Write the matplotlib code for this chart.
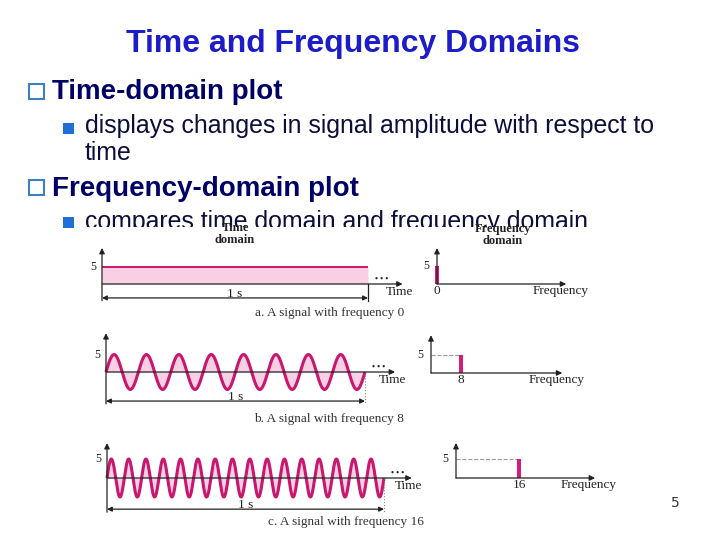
import numpy as np
import matplotlib.pyplot as plt
from matplotlib.patches import Rectangle

# slide text
title = "Time and Frequency Domains"
heads = ["Time-domain plot", "Frequency-domain plot"]
body1 = ["displays changes in signal amplitude with respect to", "time"]
body2 = "compares time domain and frequency domain"
page_no = "5"

# signals: frequency (Hz), peak amplitude, duration (s)
freqs = [0, 8, 16]
amps = [5, 5, 5]
duration = 1.0
captions = ["a. A signal with frequency 0",
            "b. A signal with frequency 8",
            "c. A signal with frequency 16"]

# layout in pixels: origin x, baseline y, px per unit x, px per unit y
time_geo = [(102, 284, 266, 3.4), (106, 372, 259, 3.5), (107, 478, 277, 3.8)]
time_top = [10.6, 11.1, 9.2]
time_meas = [-4.1, -8.3, -8.2]
time_xend = [1.13, 1.116, 1.10]
freq_geo = [(437, 284, 3.8, 3.6), (431, 373, 3.75, 3.6), (456, 478, 3.94, 3.8)]
freq_top = [10.0, 10.5, 9.2]
freq_xend = [34, 35, 35.3]
cap_pos = [(330, 313), (329, 419), (346, 522)]

W, H = 720, 540
fig = plt.figure(figsize=(7.2, 5.4), dpi=100)
sans = "Liberation Sans"
serif = "Liberation Serif"
ink = "#222222"
wave_c = "#c8176e"
fill_c = "#f9d0e3"
bar_c = "#d81b7a"


def fx(x):
    return x / W


def fy(y):
    return 1 - y / H


def panel(ox, oy, sx, sy, xlim, ylim):
    left = ox + xlim[0] * sx
    right = ox + xlim[1] * sx
    top = oy - ylim[1] * sy
    bottom = oy - ylim[0] * sy
    ax = fig.add_axes([fx(left), fy(bottom), (right - left) / W, (bottom - top) / H])
    ax.set_xlim(xlim)
    ax.set_ylim(ylim)
    ax.axis("off")
    ax.set_zorder(5)
    return ax


def arrow(ax, p0, p1, style="-|>", ms=8):
    ax.annotate("", xy=p1, xytext=p0,
                arrowprops=dict(arrowstyle=style, color=ink, lw=0.9,
                                mutation_scale=ms, shrinkA=0, shrinkB=0))


def label(ax, s, xy, dx, dy, size=9.5, **kw):
    ax.annotate(s, xy=xy, xytext=(dx * 0.72, dy * 0.72), textcoords="offset points",
                ha="center", va="center", fontsize=size, family=serif, color=ink, **kw)


# slide title and bullets
fig.text(fx(353), fy(52), title, ha="center", va="baseline", fontsize=23,
         fontweight="bold", color="#1c1cc8", family=sans)
for txt, yb, ysq in [(heads[0], 99, 84), (heads[1], 196, 180)]:
    fig.text(fx(52), fy(yb), txt, ha="left", va="baseline", fontsize=20,
             fontweight="bold", color="#000066", family=sans)
    fig.add_artist(Rectangle((fx(29), fy(ysq + 15)), 15 / W, 15 / H, transform=fig.transFigure,
                             fill=False, edgecolor="#3b7fc4", lw=1.5))
for txt, yb in zip(body1, [133, 160]):
    fig.text(fx(85), fy(yb), txt, ha="left", va="baseline", fontsize=17.9,
             color="#0d0d3a", family=sans)
fig.text(fx(85), fy(229), body2, ha="left", va="baseline", fontsize=17.9,
         color="#0d0d3a", family=sans)
for ysq in [123, 217]:
    fig.add_artist(Rectangle((fx(63), fy(ysq + 11)), 11 / W, 11 / H, transform=fig.transFigure,
                             facecolor="#1f6fd6", edgecolor="none"))

# the embedded figure covers the lower part of the last line
fig.add_artist(Rectangle((fx(80), fy(535)), 540 / W, 308 / H, transform=fig.transFigure,
                         facecolor="white", edgecolor="none", zorder=4))

fig.text(fx(235), fy(234), "Time\ndomain", ha="center", va="center", fontsize=9,
         fontweight="bold", family=serif, color=ink, linespacing=0.9, zorder=6)
fig.text(fx(503), fy(235), "Frequency\ndomain", ha="center", va="center", fontsize=9,
         fontweight="bold", family=serif, color=ink, linespacing=0.9, zorder=6)

for i, (f, a) in enumerate(zip(freqs, amps)):
    # time domain
    ox, oy, sx, sy = time_geo[i]
    ax = panel(ox, oy, sx, sy, (-0.1, 1.25), (-12, 12))
    t = np.linspace(0, duration, 3000)
    y = np.full_like(t, a) if f == 0 else a * np.sin(2 * np.pi * f * t)
    ax.fill_between(t, 0, y, color=fill_c, lw=0)
    ax.plot(t, y, color=wave_c, lw=2.2 if f else 1.4, solid_capstyle="butt")
    ym = time_meas[i]
    arrow(ax, (0, 0), (time_xend[i], 0))
    arrow(ax, (0, ym - 0.8), (0, time_top[i]))
    arrow(ax, (0, ym), (duration, ym), style="<|-|>", ms=7)
    if f == 0:
        ax.plot([duration, duration], [0, ym - 0.8], color=ink, lw=0.9)
    else:
        ax.plot([duration, duration], [0, ym - 0.8], color="#888888", lw=0.8, ls=":")
    label(ax, "5", (0, a), -9, 0, size=8.5)
    label(ax, "Time", (time_xend[i], 0), -3, -8)
    label(ax, "• • •", (duration, 0), 14, 5, size=6, fontweight="bold")
    label(ax, "1 s", (duration / 2, ym), 0, 4)
    fig.text(fx(cap_pos[i][0]), fy(cap_pos[i][1]), captions[i], ha="center", va="center",
             fontsize=9.5, family=serif, color="#333333", zorder=6)

    # frequency domain
    ox, oy, sx, sy = freq_geo[i]
    ax = panel(ox, oy, sx, sy, (-5, 40), (-5, 12))
    if f:
        ax.plot([0, f], [a, a], color="#999999", lw=0.8, ls="--")
    ax.bar([f], [a], width=1.1, color=bar_c, zorder=3)
    arrow(ax, (0, 0), (freq_xend[i], 0))
    arrow(ax, (0, 0), (0, freq_top[i]))
    label(ax, "5", (0, a), -11, 0, size=8.5)
    label(ax, str(f), (f, 0), 0, -7)
    label(ax, "Frequency", (freq_xend[i], 0), -6, -7)

fig.text(fx(675), fy(503), page_no, ha="center", va="center", fontsize=10,
         family="DejaVu Sans", color="#333333")

fig.savefig("out.png", dpi=100, facecolor="white")
